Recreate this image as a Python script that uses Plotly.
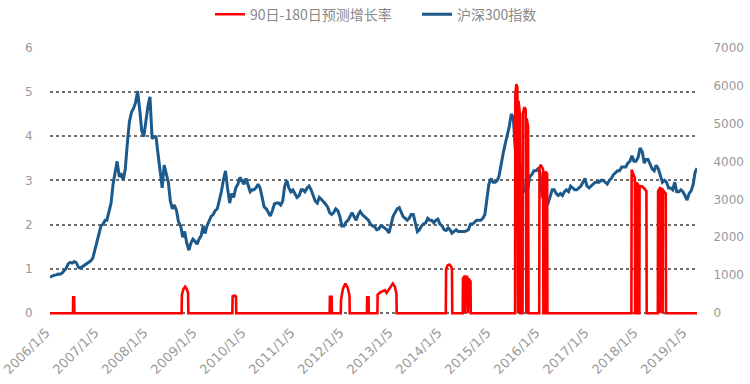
import plotly.graph_objects as go

# ---------------- DATA ----------------
# CSI300 index, sampled on the 5th and 20th of every month
csi300_2006 = [950, 985, 1000, 1010, 1030, 1025, 1060, 1120, 1180, 1300, 1340, 1320,
               1360, 1330, 1210, 1190, 1230, 1270, 1300, 1340, 1380, 1450, 1650, 1900]
csi300_2007 = [2100, 2300, 2350, 2450, 2450, 2650, 2900, 3400, 3750, 4000, 3600, 3650,
               3500, 3800, 4500, 5050, 5300, 5400, 5550, 5850, 5350, 4800, 4650, 5050]
csi300_2008 = [5450, 5700, 4600, 4650, 4650, 4200, 3800, 3300, 3900, 3650, 3450, 2950,
               2750, 2850, 2700, 2400, 2300, 2000, 2150, 1850, 1660, 1850, 1950, 1900]
csi300_2009 = [1820, 1950, 2050, 2300, 2100, 2300, 2450, 2550, 2600, 2700, 2750, 2950,
               3200, 3500, 3750, 3300, 2900, 3150, 3050, 3300, 3400, 3580, 3500, 3400]
csi300_2010 = [3550, 3400, 3200, 3250, 3250, 3300, 3400, 3300, 3050, 2800, 2750, 2650,
               2560, 2700, 2880, 2900, 2900, 2850, 2950, 3350, 3500, 3300, 3200, 3250]
csi300_2011 = [3150, 3050, 3100, 3250, 3250, 3200, 3300, 3350, 3250, 3100, 2950, 2900,
               3050, 3000, 2950, 2880, 2800, 2650, 2600, 2650, 2750, 2700, 2550, 2300]
csi300_2012 = [2300, 2400, 2450, 2550, 2650, 2550, 2450, 2600, 2680, 2600, 2550, 2500,
               2450, 2350, 2300, 2280, 2200, 2220, 2300, 2280, 2250, 2200, 2110, 2300]
csi300_2013 = [2550, 2650, 2750, 2780, 2650, 2550, 2500, 2450, 2500, 2600, 2600, 2350,
               2150, 2200, 2300, 2350, 2380, 2500, 2450, 2450, 2380, 2450, 2480, 2350]
csi300_2014 = [2300, 2200, 2180, 2250, 2200, 2110, 2150, 2200, 2150, 2150, 2140, 2150,
               2170, 2200, 2350, 2350, 2400, 2450, 2450, 2450, 2500, 2600, 3000, 3400]
csi300_2015 = [3550, 3450, 3450, 3500, 3600, 3950, 4200, 4450, 4650, 4900, 5250, 5150,
               4300, 3900, 3800, 3900, 3250, 3200, 3250, 3600, 3650, 3750, 3750, 3800]
csi300_2016 = [3700, 3100, 2950, 2950, 2900, 3100, 3250, 3250, 3150, 3100, 3150, 3100,
               3200, 3250, 3200, 3350, 3300, 3250, 3250, 3300, 3350, 3450, 3550, 3350]
csi300_2017 = [3300, 3350, 3400, 3450, 3450, 3450, 3500, 3500, 3450, 3400, 3500, 3550,
               3650, 3700, 3750, 3750, 3850, 3850, 3850, 3950, 4000, 4150, 4000, 4000]
csi300_2018 = [4100, 4350, 4250, 3950, 4050, 4050, 3900, 3800, 3750, 3900, 3800, 3650,
               3450, 3500, 3450, 3300, 3300, 3250, 3450, 3200, 3200, 3250, 3200, 3100]
csi300_2019 = [2980, 3150, 3230, 3400, 3700, 3820]

csi300_by_year = {2006: csi300_2006, 2007: csi300_2007, 2008: csi300_2008, 2009: csi300_2009,
                  2010: csi300_2010, 2011: csi300_2011, 2012: csi300_2012, 2013: csi300_2013,
                  2014: csi300_2014, 2015: csi300_2015, 2016: csi300_2016, 2017: csi300_2017,
                  2018: csi300_2018, 2019: csi300_2019}

csi_dates, csi_values = [], []
for yr, vals in csi300_by_year.items():
    for i, v in enumerate(vals):
        month = i // 2 + 1
        day = 5 if i % 2 == 0 else 20
        csi_dates.append(f"{yr}-{month:02d}-{day:02d}")
        csi_values.append(v)

# 90-180 day forecast growth rate (mostly zero, with episodes)
growth_dates = [
    "2006-01-05",
    "2006-06-25", "2006-06-27", "2006-07-04", "2006-07-06",
    "2008-09-12", "2008-09-14", "2008-09-26", "2008-10-08", "2008-10-20", "2008-10-30", "2008-11-01",
    "2009-09-25", "2009-09-27", "2009-10-10", "2009-10-22", "2009-10-24",
    "2011-09-20", "2011-09-22", "2011-10-05", "2011-10-07",
    "2011-12-12", "2011-12-14", "2011-12-28", "2012-01-15", "2012-02-01", "2012-02-15", "2012-02-17",
    "2012-06-24", "2012-06-26", "2012-07-06", "2012-07-08",
    "2012-09-10", "2012-09-12", "2012-10-01", "2012-10-20", "2012-11-05", "2012-11-18",
    "2012-12-05", "2012-12-20", "2013-01-03", "2013-01-18", "2013-01-30", "2013-02-01",
    "2014-02-02", "2014-02-04", "2014-02-15", "2014-03-01", "2014-03-15", "2014-03-20", "2014-03-22",
    "2014-06-08", "2014-06-10", "2014-06-20", "2014-06-25", "2014-06-30", "2014-07-12",
    "2014-07-17", "2014-07-22", "2014-08-05", "2014-08-07",
    "2015-07-03", "2015-07-05", "2015-07-12", "2015-07-20", "2015-07-25", "2015-07-28",
    "2015-08-08", "2015-08-12",
    "2015-08-28", "2015-08-30", "2015-09-10", "2015-09-20", "2015-09-25", "2015-09-28",
    "2015-10-08", "2015-10-11",
    "2015-12-30", "2016-01-01", "2016-01-10", "2016-01-20", "2016-01-28", "2016-01-30",
    "2016-02-12", "2016-02-14", "2016-02-27", "2016-02-29",
    "2017-11-16", "2017-11-18", "2017-12-01", "2017-12-12", "2017-12-14",
    "2017-12-24", "2017-12-26", "2018-01-05", "2018-01-08",
    "2018-01-14", "2018-01-16", "2018-02-05", "2018-02-25", "2018-03-08", "2018-03-10",
    "2018-06-01", "2018-06-03", "2018-06-15", "2018-06-17", "2018-06-19", "2018-07-05",
    "2018-07-07", "2018-07-09", "2018-07-30", "2018-08-01",
    "2019-03-20",
]
growth_values = [
    0,
    0, 0.36, 0.36, 0,
    0, 0.42, 0.55, 0.60, 0.55, 0.45, 0,
    0, 0.38, 0.40, 0.38, 0,
    0, 0.37, 0.37, 0,
    0, 0.30, 0.55, 0.67, 0.58, 0.40, 0,
    0, 0.36, 0.36, 0,
    0, 0.42, 0.47, 0.50, 0.52, 0.46,
    0.55, 0.62, 0.67, 0.60, 0.45, 0,
    0, 1.00, 1.08, 1.10, 1.05, 0.95, 0,
    0, 0.78, 0.84, 0, 0.83, 0.82,
    0, 0.78, 0.72, 0,
    0, 4.90, 5.17, 5.10, 0, 4.80,
    4.50, 0,
    0, 4.50, 4.65, 4.60, 0, 4.40,
    4.20, 0,
    0, 3.28, 3.35, 3.30, 3.25, 0,
    0, 3.20, 3.15, 0,
    0, 3.24, 3.15, 3.05, 0,
    0, 2.95, 2.90, 0,
    0, 2.87, 2.86, 2.80, 2.75, 0,
    0, 2.75, 2.82, 0, 2.82, 2.80,
    0, 2.78, 2.70, 0,
    0,
]

year_ticks = list(range(2006, 2020))
tick_vals = [f"{y}-01-05" for y in year_ticks]
tick_text = [f"{y}/1/5" for y in year_ticks]

# ---------------- FIGURE ----------------
fig = go.Figure()
fig.add_trace(go.Scatter(
    x=csi_dates, y=csi_values, mode="lines", name="沪深300指数",
    line=dict(color="#1d5a8c", width=3), yaxis="y", legendrank=2,
))
fig.add_trace(go.Scatter(
    x=growth_dates, y=growth_values, mode="lines", name="90日-180日预测增长率",
    line=dict(color="#ff0000", width=2.6), yaxis="y2", legendrank=1,
))

x_font = dict(family="DejaVu Sans", size=13, color="#999999")
y_font = dict(family="DejaVu Sans", size=12, color="#999999")

fig.update_layout(
    width=750, height=384,
    margin=dict(l=50, r=53, t=46.5, b=69, autoexpand=False),
    paper_bgcolor="white", plot_bgcolor="white",
    showlegend=True,
    legend=dict(orientation="h", xref="container", x=0.28, xanchor="left",
                yref="container", y=0.962, yanchor="middle",
                entrywidth=162, entrywidthmode="pixels",
                font=dict(family="Noto Sans CJK SC", size=14, color="#888888"),
                bgcolor="rgba(0,0,0,0)"),
    xaxis=dict(type="date", range=["2006-01-05", "2019-03-20"],
               tickmode="array", tickvals=tick_vals, ticktext=tick_text,
               tickangle=-45, tickfont=x_font, ticklabelshift=-4,
               ticklabeloverflow="allow",
               showgrid=False, zeroline=False, showline=False,
               ticks="outside", ticklen=4, tickcolor="rgba(0,0,0,0)"),
    yaxis=dict(side="right", range=[-1000 * 7 / 6 * 0.04, 7000 + 1000 * 7 / 6 * 0.01],
               tickmode="array",
               tickvals=[0, 1000, 2000, 3000, 4000, 5000, 6000, 7000],
               showgrid=False, zeroline=False, showline=False,
               tickfont=y_font, ticks="outside", ticklen=13,
               tickcolor="rgba(0,0,0,0)"),
    yaxis2=dict(overlaying="y", side="left", range=[-0.04, 6.01], dtick=1,
                showgrid=True, gridcolor="#6e6e6e", gridwidth=2, griddash="dot",
                zeroline=False, showline=False,
                tickfont=y_font, ticks="outside", ticklen=14,
                tickcolor="rgba(0,0,0,0)"),
)

fig.write_html("out.html", config={"displayModeBar": False},
               post_script="document.body.style.margin='0';")
